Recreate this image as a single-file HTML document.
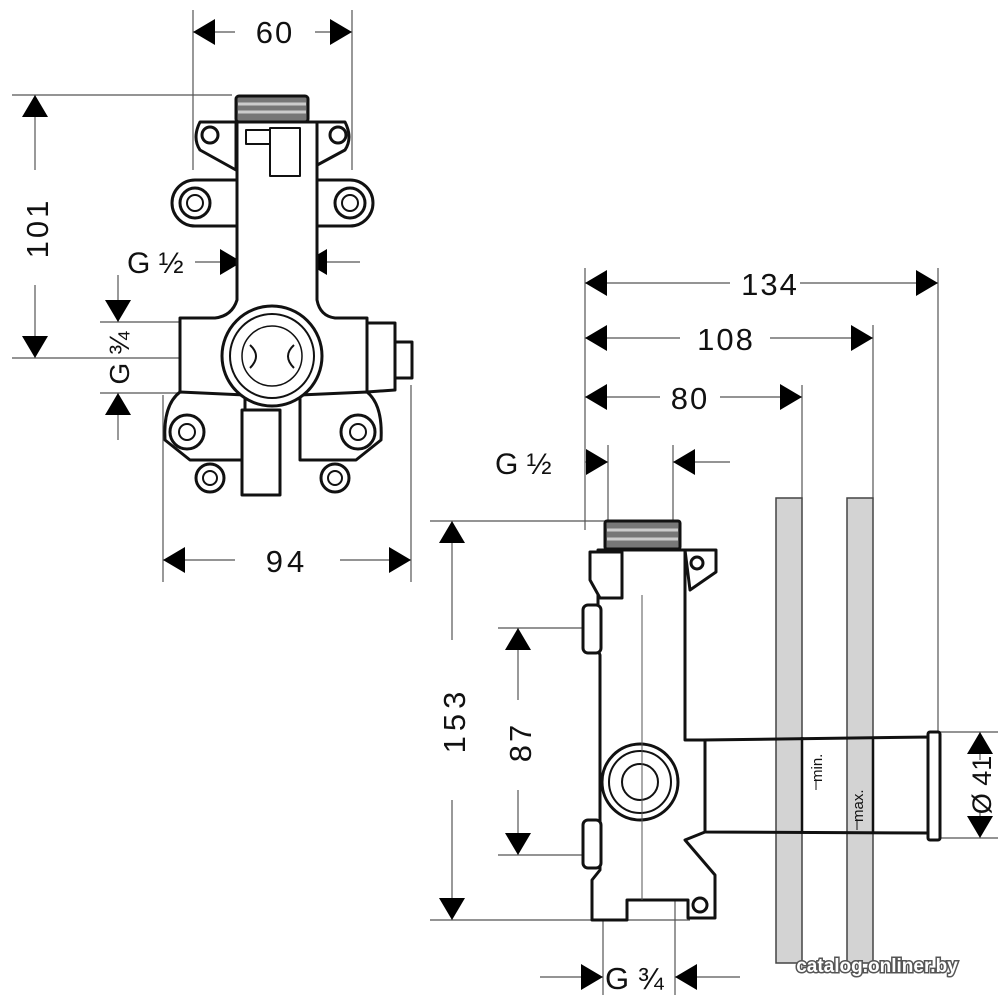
<!DOCTYPE html>
<html><head><meta charset="utf-8"><style>
html,body{margin:0;padding:0;background:#fff;}
svg{display:block;}
text{font-family:"Liberation Sans","DejaVu Sans",sans-serif;fill:#111;}
</style></head><body>
<svg width="1000" height="1000" viewBox="0 0 1000 1000" xmlns="http://www.w3.org/2000/svg">
<defs>
<marker id="a" viewBox="0 0 22 26" refX="22" refY="13" markerWidth="22" markerHeight="26" markerUnits="userSpaceOnUse" orient="auto"><path d="M0,0L22,13L0,26Z" fill="#000"/></marker>
</defs>
<g stroke="#555" stroke-width="1.2" fill="none">
<line x1="193" y1="10" x2="193" y2="170"/><line x1="352" y1="10" x2="352" y2="170"/>
<line x1="235" y1="32" x2="193" y2="32" marker-end="url(#a)"/><line x1="315" y1="32" x2="352" y2="32" marker-end="url(#a)"/>
<line x1="12" y1="95" x2="232" y2="95"/><line x1="12" y1="358" x2="180" y2="358"/>
<line x1="35" y1="170" x2="35" y2="95" marker-end="url(#a)"/><line x1="35" y1="285" x2="35" y2="358" marker-end="url(#a)"/>
<line x1="195" y1="262" x2="242" y2="262" marker-end="url(#a)"/><line x1="360" y1="262" x2="305" y2="262" marker-end="url(#a)"/>
<line x1="242" y1="245" x2="242" y2="330"/><line x1="305" y1="245" x2="305" y2="330"/>
<line x1="100" y1="322" x2="182" y2="322"/><line x1="100" y1="393" x2="182" y2="393"/>
<line x1="118" y1="275" x2="118" y2="322" marker-end="url(#a)"/><line x1="118" y1="440" x2="118" y2="393" marker-end="url(#a)"/>
<line x1="163" y1="395" x2="163" y2="582"/><line x1="411" y1="385" x2="411" y2="582"/>
<line x1="235" y1="560" x2="163" y2="560" marker-end="url(#a)"/><line x1="340" y1="560" x2="411" y2="560" marker-end="url(#a)"/>
<line x1="585" y1="268" x2="585" y2="530"/>
<line x1="938" y1="268" x2="938" y2="735"/><line x1="873" y1="325" x2="873" y2="500"/><line x1="802" y1="385" x2="802" y2="500"/>
<line x1="730" y1="283" x2="585" y2="283" marker-end="url(#a)"/><line x1="800" y1="283" x2="938" y2="283" marker-end="url(#a)"/>
<line x1="680" y1="338" x2="585" y2="338" marker-end="url(#a)"/><line x1="770" y1="338" x2="873" y2="338" marker-end="url(#a)"/>
<line x1="660" y1="397" x2="585" y2="397" marker-end="url(#a)"/><line x1="720" y1="397" x2="802" y2="397" marker-end="url(#a)"/>
<line x1="608" y1="445" x2="608" y2="530"/><line x1="673" y1="445" x2="673" y2="530"/>
<line x1="585" y1="462" x2="608" y2="462" marker-end="url(#a)"/><line x1="730" y1="462" x2="673" y2="462" marker-end="url(#a)"/>
<line x1="430" y1="521" x2="610" y2="521"/><line x1="430" y1="920" x2="690" y2="920"/>
<line x1="452" y1="640" x2="452" y2="521" marker-end="url(#a)"/><line x1="452" y1="800" x2="452" y2="920" marker-end="url(#a)"/>
<line x1="498" y1="628" x2="590" y2="628"/><line x1="498" y1="855" x2="590" y2="855"/>
<line x1="518" y1="700" x2="518" y2="628" marker-end="url(#a)"/><line x1="518" y1="790" x2="518" y2="855" marker-end="url(#a)"/>
<line x1="603" y1="890" x2="603" y2="995"/><line x1="675" y1="895" x2="675" y2="995"/>
<line x1="540" y1="977" x2="603" y2="977" marker-end="url(#a)"/><line x1="740" y1="977" x2="675" y2="977" marker-end="url(#a)"/>
<line x1="940" y1="732" x2="998" y2="732"/><line x1="940" y1="838" x2="998" y2="838"/>
<line x1="980" y1="760" x2="980" y2="732" marker-end="url(#a)"/><line x1="980" y1="810" x2="980" y2="838" marker-end="url(#a)"/>
</g>
<rect x="776" y="498" width="26" height="465" fill="#d3d3d3" stroke="#444" stroke-width="1.5"/>
<rect x="847" y="498" width="26" height="465" fill="#d3d3d3" stroke="#444" stroke-width="1.5"/>

<g stroke="#111" stroke-width="3" fill="#fff" stroke-linejoin="round">
<rect x="236" y="96" width="72" height="26" rx="3" fill="#777"/>
<line x1="238" y1="104" x2="306" y2="104" stroke="#ccc" stroke-width="3"/>
<line x1="238" y1="112" x2="306" y2="112" stroke="#ccc" stroke-width="3"/>
<path d="M200,122 L236,122 L236,170 L200,150 Q192,138 200,122Z"/>
<path d="M345,122 L308,122 L308,170 L345,150 Q353,138 345,122Z"/>
<path d="M237,180 L195,180 A22,22 0 0 0 195,226 L237,226Z"/>
<path d="M317,180 L350,180 A22,22 0 0 1 350,226 L317,226Z"/>
<path d="M237,122 L317,122 L317,300 Q320,316 335,318 L367,318 L367,395 L180,395 L180,318 L215,318 Q232,316 237,300Z"/>
<path d="M367,323 L395,323 L395,390 L367,392Z"/>
<path d="M395,342 L412,342 L412,378 L395,378Z"/>
<path d="M180,392 Q163,405 165,440 L190,460 L245,460 L245,395Z"/>
<path d="M367,392 Q383,405 381,440 L356,460 L300,460 L300,395Z"/>
<path d="M242,410 L280,410 L280,495 L242,495Z"/>
<circle cx="210" cy="478" r="14"/><circle cx="335" cy="478" r="14"/>
<circle cx="272" cy="356" r="50"/>
<circle cx="272" cy="356" r="42" stroke-width="2"/>
<circle cx="272" cy="356" r="30" stroke-width="1.5"/>
<circle cx="210" cy="135" r="8"/><circle cx="338" cy="135" r="8"/>
<circle cx="195" cy="203" r="15"/><circle cx="195" cy="203" r="8" stroke-width="2"/>
<circle cx="350" cy="203" r="15"/><circle cx="350" cy="203" r="8" stroke-width="2"/>
<circle cx="187" cy="432" r="17"/><circle cx="187" cy="432" r="8" stroke-width="2"/>
<circle cx="358" cy="432" r="17"/><circle cx="358" cy="432" r="8" stroke-width="2"/>
<circle cx="210" cy="478" r="7" stroke-width="2"/><circle cx="335" cy="478" r="7" stroke-width="2"/>
<rect x="246" y="130" width="28" height="14" stroke-width="2"/>
<rect x="270" y="128" width="30" height="48" stroke-width="2"/>
</g>
<path d="M250,345 Q262,356 250,368 M294,345 Q282,356 294,368" stroke="#111" stroke-width="2" fill="none"/>

<g stroke="#111" stroke-width="3" fill="#fff" stroke-linejoin="round">
<rect x="605" y="521" width="75" height="28" rx="2" fill="#777"/>
<line x1="607" y1="530" x2="678" y2="530" stroke="#ccc" stroke-width="3"/>
<line x1="607" y1="539" x2="678" y2="539" stroke="#ccc" stroke-width="3"/>
<path d="M703,740 L930,737 L930,833 L703,832Z" fill="none"/>
<rect x="928" y="732" width="12" height="108" rx="2"/>
<path d="M598,550 L685,550 L685,740 L705,740 L705,832 L685,840 L715,875 L715,918 L688,918 L688,900 L627,900 L627,920 L592,920 L592,880 L600,870 L600,655 L598,650Z"/>
<path d="M685,550 L716,550 L716,572 L690,590Z"/>
<path d="M590,552 L622,552 L622,598 L600,598 L590,580Z"/>
<rect x="583" y="605" width="18" height="48" rx="5"/>
<rect x="583" y="820" width="18" height="48" rx="5"/>
<circle cx="640" cy="782" r="38"/>
<circle cx="640" cy="782" r="31" stroke-width="2"/>
<circle cx="640" cy="782" r="18" stroke-width="2"/>
<circle cx="697" cy="563" r="6"/><circle cx="700" cy="905" r="7"/>
</g>
<line x1="802" y1="737" x2="802" y2="832" stroke="#111" stroke-width="2.5"/>
<line x1="873" y1="737" x2="873" y2="833" stroke="#111" stroke-width="2.5"/>
<line x1="642" y1="595" x2="642" y2="900" stroke="#555" stroke-width="1"/>

<text x="275" y="43" font-size="31" text-anchor="middle" letter-spacing="2">60</text>
<text transform="translate(48,228) rotate(-90)" font-size="31" text-anchor="middle" letter-spacing="3">101</text>
<text x="127" y="273" font-size="30">G ½</text>
<text transform="translate(129,358) rotate(-90)" font-size="28" text-anchor="middle">G ¾</text>
<text x="287" y="572" font-size="31" text-anchor="middle" letter-spacing="4">94</text>
<text x="770" y="295" font-size="31" text-anchor="middle" letter-spacing="2">134</text>
<text x="726" y="350" font-size="31" text-anchor="middle" letter-spacing="2">108</text>
<text x="690" y="409" font-size="31" text-anchor="middle" letter-spacing="2">80</text>
<text x="495" y="474" font-size="30">G ½</text>
<text transform="translate(465,720) rotate(-90)" font-size="31" text-anchor="middle" letter-spacing="5">153</text>
<text transform="translate(531,742) rotate(-90)" font-size="31" text-anchor="middle" letter-spacing="3">87</text>
<text x="605" y="989" font-size="31">G ¾</text>
<text transform="translate(991,785) rotate(-90)" font-size="27" text-anchor="middle">Ø 41</text>
<text transform="translate(822,782) rotate(-90)" font-size="15">min.</text>
<text transform="translate(863,822) rotate(-90)" font-size="15">max.</text>
<line x1="816" y1="780" x2="816" y2="790" stroke="#111" stroke-width="1"/>
<line x1="857" y1="820" x2="857" y2="830" stroke="#111" stroke-width="1"/>
<text x="877" y="972" font-size="19" font-weight="bold" text-anchor="middle" style="fill:#fff;stroke:#555;stroke-width:3;paint-order:stroke;">catalog.onliner.by</text>
</svg>
</body></html>
